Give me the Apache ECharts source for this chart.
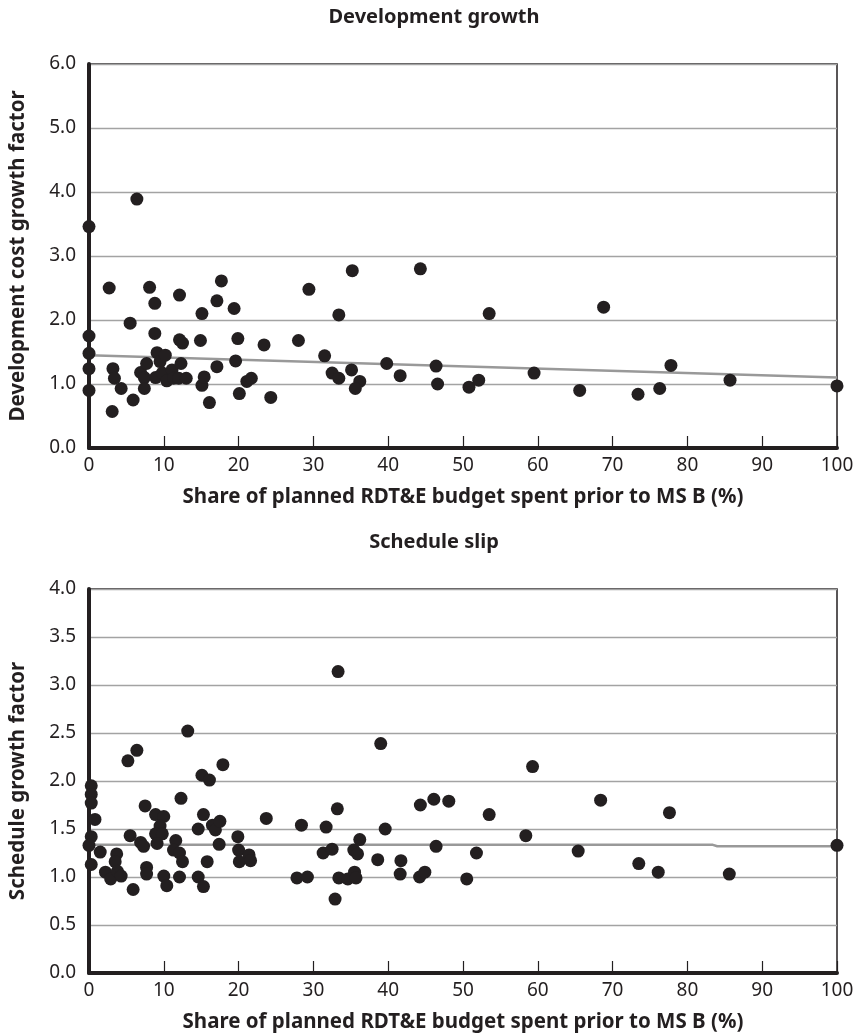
<!DOCTYPE html>
<html>
<head>
<meta charset="utf-8">
<script src="https://cdn.jsdelivr.net/npm/echarts@6/dist/echarts.min.js"></script>
<style>
  html, body { margin: 0; padding: 0; background: #fff; }
</style>
</head>
<body>
<div id="chart" style="width: 857px; height: 1034px"></div>
<script>
// top panel: development cost growth vs share of RDT&E spent before MS B
const devShare = [0, 6.4, 0, 0, 0, 0, 2.7, 3.2, 3.4, 4.3, 3.1, 5.5, 5.9, 6.9, 7.7, 7.4, 7.4, 8.1, 8.8, 8.8,
  9.1, 9.5, 10.2, 8.9, 9.8, 10.4, 11.1, 11.3, 12.1, 12.5, 12.1, 12.3, 12.0, 13.0, 14.9, 15.1, 15.1, 15.4, 16.1, 17.1,
  17.7, 17.1, 19.4, 19.9, 19.6, 20.1, 21.1, 21.7, 23.4, 24.3, 28.0, 29.4, 31.5, 32.5, 33.4, 33.4, 35.1, 35.2, 36.2, 35.6,
  39.8, 41.6, 44.3, 46.4, 46.6, 50.8, 52.1, 53.5, 59.5, 65.6, 68.8, 73.4, 76.3, 77.8, 85.7, 100];
const devGrowth = [3.46, 3.89, 1.75, 1.48, 1.24, 0.90, 2.50, 1.24, 1.09, 0.93, 0.57, 1.95, 0.75, 1.18, 1.32, 1.10, 0.93, 2.51, 2.26, 1.79,
  1.49, 1.35, 1.45, 1.10, 1.17, 1.05, 1.22, 1.09, 1.69, 1.64, 2.39, 1.32, 1.09, 1.09, 1.68, 2.10, 0.98, 1.11, 0.71, 2.30,
  2.61, 1.27, 2.18, 1.71, 1.36, 0.85, 1.04, 1.09, 1.61, 0.79, 1.68, 2.48, 1.44, 1.17, 1.09, 2.08, 1.22, 2.77, 1.04, 0.93,
  1.32, 1.13, 2.80, 1.28, 1.00, 0.95, 1.06, 2.10, 1.17, 0.90, 2.20, 0.84, 0.93, 1.29, 1.06, 0.97];
const devTrendX = [0, 100];
const devTrendY = [1.45, 1.10];

// bottom panel: schedule growth
const schedShare = [0.3, 0.3, 0.3, 0.8, 0.3, 0, 0.3, 1.5, 2.2, 2.9, 3.7, 3.5, 3.8, 4.3, 5.2, 6.4, 5.5, 5.9, 6.9, 7.3,
  7.5, 7.7, 7.7, 8.9, 10.0, 9.5, 8.9, 9.8, 9.1, 10.0, 10.4, 11.6, 11.3, 12.1, 12.5, 12.1, 12.3, 13.2, 14.6, 14.6,
  15.3, 15.1, 16.1, 15.3, 15.8, 16.5, 16.9, 17.5, 17.4, 17.9, 19.9, 20.0, 20.1, 21.4, 21.6, 23.7, 27.8, 29.2, 28.4, 31.7,
  31.3, 32.5, 33.2, 33.3, 32.9, 33.4, 34.6, 35.5, 35.7, 35.4, 35.9, 36.2, 39.0, 38.6, 39.6, 41.7, 41.6, 44.3, 44.2, 44.9,
  46.1, 48.1, 46.4, 50.5, 51.8, 53.5, 58.4, 59.3, 65.4, 68.4, 73.5, 76.1, 77.6, 85.6, 100];
const schedGrowth = [1.95, 1.86, 1.77, 1.60, 1.42, 1.33, 1.13, 1.26, 1.05, 0.98, 1.24, 1.16, 1.06, 1.01, 2.21, 2.32, 1.43, 0.87, 1.36, 1.32,
  1.74, 1.10, 1.03, 1.65, 1.63, 1.53, 1.45, 1.45, 1.35, 1.01, 0.91, 1.38, 1.28, 1.25, 1.16, 1.00, 1.82, 2.52, 1.50, 1.00,
  0.90, 2.06, 2.01, 1.65, 1.16, 1.54, 1.49, 1.58, 1.34, 2.17, 1.42, 1.28, 1.16, 1.23, 1.17, 1.61, 0.99, 1.00, 1.54, 1.52,
  1.25, 1.29, 1.71, 3.14, 0.77, 0.99, 0.98, 1.05, 0.99, 1.28, 1.24, 1.39, 2.39, 1.18, 1.50, 1.17, 1.03, 1.75, 1.00, 1.05,
  1.81, 1.79, 1.32, 0.98, 1.25, 1.65, 1.43, 2.15, 1.27, 1.80, 1.14, 1.05, 1.67, 1.03, 1.33];
const schedTrendX = [0, 83.4, 84, 100];
const schedTrendY = [1.335, 1.335, 1.32, 1.32];

const titles = ["Development growth", "Schedule slip"];
const yNames = ["Development cost growth factor", "Schedule growth factor"];
const xName = "Share of planned RDT&E budget spent prior to MS B (%)";

const ink = "#231f20";
const font = "Noto Sans";
const pairs = (xs, ys) => xs.map((x, i) => [x, ys[i]]);

const chart = echarts.init(document.getElementById("chart"));

function xAxisFor(grid) {
  return {
    gridIndex: grid,
    type: "value",
    min: 0, max: 100, interval: 10,
    name: xName,
    nameLocation: "middle",
    nameGap: 39,
    nameTextStyle: { fontFamily: font, fontWeight: "bold", fontSize: 20.5, color: ink },
    axisLine: { show: true, onZero: false, lineStyle: { color: ink, width: 4 } },
    axisTick: { show: true, inside: true, length: 12, lineStyle: { color: ink, width: 1.2 } },
    axisLabel: { fontFamily: font, fontSize: 19, color: ink, margin: 8 },
    splitLine: { show: false },
  };
}

function yAxisFor(grid, max, step, name) {
  return {
    gridIndex: grid,
    type: "value",
    min: 0, max: max, interval: step,
    name: name,
    nameLocation: "middle",
    nameGap: 60,
    nameTextStyle: { fontFamily: font, fontWeight: "bold", fontSize: 20.5, color: ink },
    axisLine: { show: true, onZero: false, lineStyle: { color: ink, width: 4 } },
    axisTick: { show: false },
    axisLabel: { fontFamily: font, fontSize: 19, color: ink, margin: 13, formatter: (v) => v.toFixed(1) },
    splitLine: { show: true, lineStyle: { color: "#a3a3a3", width: 1.4 } },
  };
}

function dots(i, xs, ys) {
  return {
    type: "scatter",
    xAxisIndex: i, yAxisIndex: i,
    data: pairs(xs, ys),
    symbolSize: 13,
    clip: false,
    itemStyle: { color: ink, opacity: 1 },
    z: 5,
  };
}

function trend(i, xs, ys) {
  return {
    type: "line",
    xAxisIndex: i, yAxisIndex: i,
    data: pairs(xs, ys),
    showSymbol: false,
    lineStyle: { color: "#999999", width: 2.5 },
    z: 3,
  };
}

chart.setOption({
  animation: false,
  title: [
    { text: titles[0], left: 434, top: 7, textAlign: "center", padding: 0,
      textStyle: { fontFamily: font, fontWeight: "bold", fontSize: 20, color: ink } },
    { text: titles[1], left: 434, top: 532, textAlign: "center", padding: 0,
      textStyle: { fontFamily: font, fontWeight: "bold", fontSize: 20, color: ink } },
  ],
  grid: [
    { left: 88.5, right: 20, top: 64, height: 384, show: true, borderColor: ink, borderWidth: 1.5, backgroundColor: "transparent" },
    { left: 88.5, right: 20, top: 589, height: 385, show: true, borderColor: ink, borderWidth: 1.5, backgroundColor: "transparent" },
  ],
  xAxis: [xAxisFor(0), xAxisFor(1)],
  yAxis: [yAxisFor(0, 6, 1, yNames[0]), yAxisFor(1, 4, 0.5, yNames[1])],
  series: [
    trend(0, devTrendX, devTrendY),
    dots(0, devShare, devGrowth),
    trend(1, schedTrendX, schedTrendY),
    dots(1, schedShare, schedGrowth),
  ],
});
</script>
</body>
</html>
